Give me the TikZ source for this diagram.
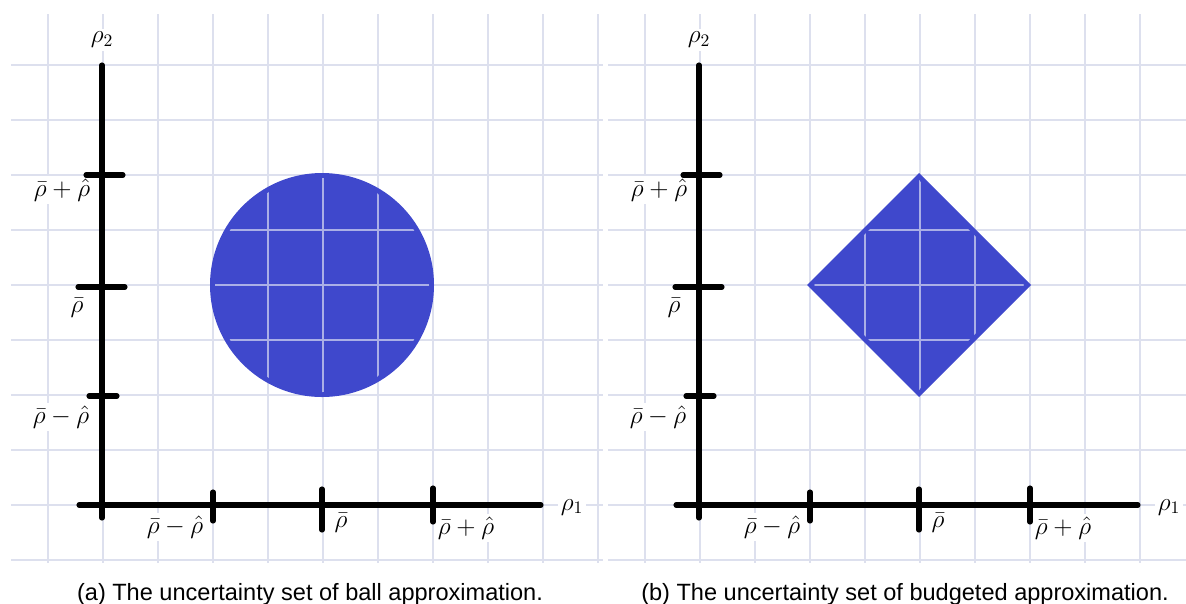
\documentclass[tikz,border=0pt]{standalone}
\usepackage{fontspec}
\newfontfamily\capfont{Liberation Sans}
\definecolor{setblue}{RGB}{63,72,204}
\definecolor{gridcol}{RGB}{221,224,238}
\definecolor{innergrid}{RGB}{170,175,230}
\begin{document}
\begin{tikzpicture}[x=0.02cm,y=-0.02cm,
  gridline/.style={draw=gridcol,line width=0.85pt},
  innerline/.style={draw=innergrid,line width=0.7pt},
  axisline/.style={line width=2.9pt,line cap=round},
  tickline/.style={line width=2.9pt,line cap=round},
  mlabel/.style={fill=white,inner sep=1.5pt,font=\Large},
  caption/.style={font=\capfont\fontsize{13.4}{16}\selectfont,anchor=base,inner sep=0pt}]
\useasboundingbox (0,0) rectangle (1186,603);
\clip (0,0) rectangle (1186,603);
\foreach \p/\dx in {a/0,b/597}{
  \begin{scope}[shift={(\dx,0)}]
    % background grid
    \foreach \gx in {48,103,...,598} \draw[gridline] (\gx,14) -- (\gx,563);
    \foreach \gy in {65,120,...,560} \draw[gridline] (11,\gy) -- (603,\gy);
    % uncertainty set
    \ifnum\dx=0
      \fill[setblue] (322,285) circle[radius=112];
      \begin{scope}
        \clip (322,285) circle[radius=107];
        \foreach \gx in {213,268,323,378,433} \draw[innerline] (\gx,170) -- (\gx,400);
        \foreach \gy in {175,230,285,340,395} \draw[innerline] (205,\gy) -- (440,\gy);
      \end{scope}
    \else
      \fill[setblue] (322,173) -- (434,285) -- (322,397) -- (210,285) -- cycle;
      \begin{scope}
        \clip (322,180) -- (427,285) -- (322,390) -- (217,285) -- cycle;
        \foreach \gx in {213,268,323,378,433} \draw[innerline] (\gx,170) -- (\gx,400);
        \foreach \gy in {175,230,285,340,395} \draw[innerline] (205,\gy) -- (440,\gy);
      \end{scope}
    \fi
    % labels
    \node[mlabel] (\p-rho2) at (102,40) {$\rho_2$};
    \node[mlabel] (\p-rho1) at (572,507) {$\rho_1$};
    \node[mlabel] (\p-yhi) at (62,190) {$\bar\rho+\hat\rho$};
    \node[mlabel] (\p-ymid) at (77,308) {$\bar\rho$};
    \node[mlabel] (\p-ylo) at (61,417) {$\bar\rho-\hat\rho$};
    \node[mlabel] (\p-xlo) at (175,527) {$\bar\rho-\hat\rho$};
    \node[mlabel] (\p-xmid) at (341,523) {$\bar\rho$};
    \node[mlabel] (\p-xhi) at (466,528) {$\bar\rho+\hat\rho$};
    % axes
    \coordinate (\p-ytop) at (102,65);
    \coordinate (\p-ybot) at (102,518);
    \coordinate (\p-xleft) at (79,505);
    \coordinate (\p-xright) at (541,505);
    \draw[axisline] (\p-ytop) -- (\p-ybot);
    \draw[axisline] (\p-xleft) -- (\p-xright);
    % ticks
    \draw[tickline] (86,175) -- (123,175);
    \draw[tickline] (78,287) -- (125,287);
    \draw[tickline] (89,396) -- (117,396);
    \draw[tickline] (213,492) -- (213,521);
    \draw[tickline] (322,489) -- (322,530);
    \draw[tickline] (433,488) -- (433,522);
  \end{scope}
}
\node[caption] (capa) at (310,600) {(a) The uncertainty set of ball approximation.};
\node[caption] (capb) at (905,600) {(b) The uncertainty set of budgeted approximation.};
\end{tikzpicture}
\end{document}
